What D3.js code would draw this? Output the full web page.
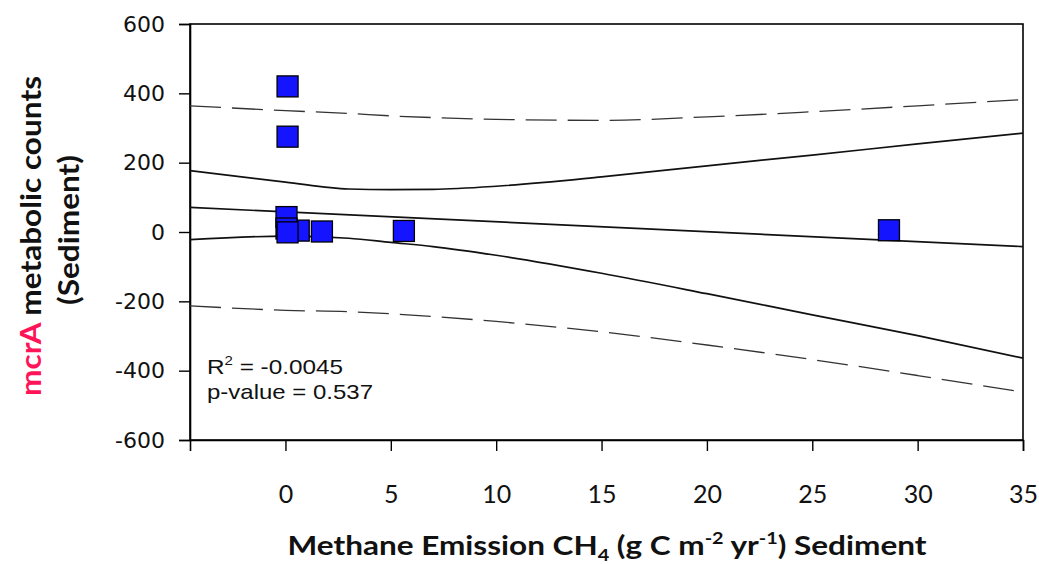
<!DOCTYPE html>
<html>
<head>
<meta charset="utf-8">
<script src="https://cdn.jsdelivr.net/npm/d3@7"></script>
<style>
  html, body { margin: 0; padding: 0; background: #fff; }
  svg { display: block; }
</style>
</head>
<body>
<script>
// Sediment samples: methane emission vs. mcrA metabolic counts
const emission = [0.63, 0.1, 0.1, 0.05, 0.05, 0.1, 1.73, 5.62, 28.64];
const counts   = [4, 420, 275, 43, 10, -1, 1.5, 3, 5];

// Linear fit end points
const fitX = [-4.53, 35];
const fitY = [71, -42];

// 95% confidence band and 95% prediction band
const bandX     = [-4.53, 0, 3, 5, 7, 10, 15, 20, 25, 30, 35];
const confUpper = [177, 144, 124, 122, 123, 132, 159, 191, 222, 254, 285];
const confLower = [-22, -12, -18, -30, -42, -67, -119, -178, -239, -299, -364];
const predUpper = [364, 350, 342, 335, 330, 325, 322, 332, 347, 364, 382];
const predLower = [-213, -226, -230, -236, -244, -258, -288, -326, -368, -414, -462];

const xTicks = [0, 5, 10, 15, 20, 25, 30, 35];
const yTicks = [-600, -400, -200, 0, 200, 400, 600];

const statLines = ["-0.0045", "0.537"];

const W = 1039, H = 564;
const plot = { left: 190, right: 1023, top: 24, bottom: 440 };

const svg = d3.select("body").append("svg")
  .attr("width", W).attr("height", H);

const x = d3.scaleLinear().domain([-4.53, 35]).range([plot.left, plot.right]);
const y = d3.scaleLinear().domain([-600, 600]).range([plot.bottom, plot.top]);

// Frame
svg.append("rect")
  .attr("x", plot.left).attr("y", plot.top)
  .attr("width", plot.right - plot.left).attr("height", plot.bottom - plot.top)
  .attr("fill", "none").attr("stroke", "#000").attr("stroke-width", 1.6);

// Y axis
const yAxis = svg.append("g")
  .attr("transform", `translate(${plot.left},0)`)
  .call(d3.axisLeft(y).tickValues(yTicks).tickSize(11).tickPadding(14).tickFormat(d => String(d)));
yAxis.select(".domain").attr("stroke-width", 1.6);
yAxis.selectAll(".tick line").attr("stroke-width", 1.4);
yAxis.selectAll(".tick text")
  .attr("font-family", "'DejaVu Sans', sans-serif")
  .attr("font-size", 22).attr("fill", "#111");

// X axis
const xAxis = svg.append("g")
  .attr("transform", `translate(0,${plot.bottom})`)
  .call(d3.axisBottom(x).tickValues(xTicks).tickSize(11).tickPadding(34));
xAxis.select(".domain").attr("stroke-width", 1.6);
xAxis.selectAll(".tick line").attr("stroke-width", 1.4);
xAxis.selectAll(".tick text")
  .attr("font-family", "Lato, sans-serif")
  .attr("font-size", 25).attr("fill", "#111");

// Bands and fit
const line = d3.line()
  .x((d, i) => x(bandX[i]))
  .y(d => y(d))
  .curve(d3.curveMonotoneX);

const g = svg.append("g");
[predUpper, predLower].forEach(arr => {
  g.append("path").attr("d", line(arr))
    .attr("fill", "none").attr("stroke", "#333").attr("stroke-width", 1.3)
    .attr("stroke-dasharray", "31,11");
});
[confUpper, confLower].forEach(arr => {
  g.append("path").attr("d", line(arr))
    .attr("fill", "none").attr("stroke", "#111").attr("stroke-width", 1.7);
});
g.append("line")
  .attr("x1", x(fitX[0])).attr("y1", y(fitY[0]))
  .attr("x2", x(fitX[1])).attr("y2", y(fitY[1]))
  .attr("stroke", "#111").attr("stroke-width", 1.7);

// Points
const s = 21;
svg.append("g").selectAll("rect")
  .data(emission.map((e, i) => [e, counts[i]]))
  .join("rect")
  .attr("x", d => x(d[0]) - s / 2)
  .attr("y", d => y(d[1]) - s / 2)
  .attr("width", s).attr("height", s)
  .attr("fill", "#1414ff").attr("stroke", "#000").attr("stroke-width", 1.3);

// Statistics
const st = svg.append("g")
  .attr("font-family", "'Liberation Sans', Arial, sans-serif")
  .attr("font-size", 21).attr("fill", "#111");
const t1 = st.append("text").attr("x", 207).attr("y", 374)
  .attr("textLength", 136).attr("lengthAdjust", "spacingAndGlyphs");
t1.append("tspan").text("R");
t1.append("tspan").attr("dy", -9).attr("font-size", 13).text("2");
t1.append("tspan").attr("dy", 9).text(" = " + statLines[0]);
st.append("text").attr("x", 207).attr("y", 399)
  .attr("textLength", 166).attr("lengthAdjust", "spacingAndGlyphs")
  .text("p-value = " + statLines[1]);

// Y axis title
const yt = svg.append("g")
  .attr("font-family", "Lato, sans-serif").attr("font-weight", 700).attr("font-size", 28);
const yl1 = yt.append("text")
  .attr("transform", "translate(41,236) rotate(-90)")
  .attr("text-anchor", "middle")
  .attr("textLength", 320).attr("lengthAdjust", "spacingAndGlyphs");
yl1.append("tspan").attr("fill", "#ff1458").text("mcrA");
yl1.append("tspan").attr("fill", "#111").text(" metabolic counts");
yt.append("text")
  .attr("transform", "translate(79,230) rotate(-90)")
  .attr("text-anchor", "middle").attr("fill", "#111")
  .attr("textLength", 150).attr("lengthAdjust", "spacingAndGlyphs")
  .text("(Sediment)");

// X axis title
const xt = svg.append("text")
  .attr("x", 607).attr("y", 555)
  .attr("text-anchor", "middle")
  .attr("font-family", "Lato, sans-serif").attr("font-weight", 700)
  .attr("font-size", 27).attr("fill", "#111")
  .attr("textLength", 639).attr("lengthAdjust", "spacingAndGlyphs");
xt.append("tspan").text("Methane Emission CH");
xt.append("tspan").attr("font-size", 17).attr("dy", 6).text("4");
xt.append("tspan").attr("dy", -6).text(" (g C m");
xt.append("tspan").attr("font-size", 17).attr("dy", -11).text("-2");
xt.append("tspan").attr("dy", 11).text(" yr");
xt.append("tspan").attr("font-size", 17).attr("dy", -11).text("-1");
xt.append("tspan").attr("dy", 11).text(")  Sediment");
</script>
</body>
</html>
